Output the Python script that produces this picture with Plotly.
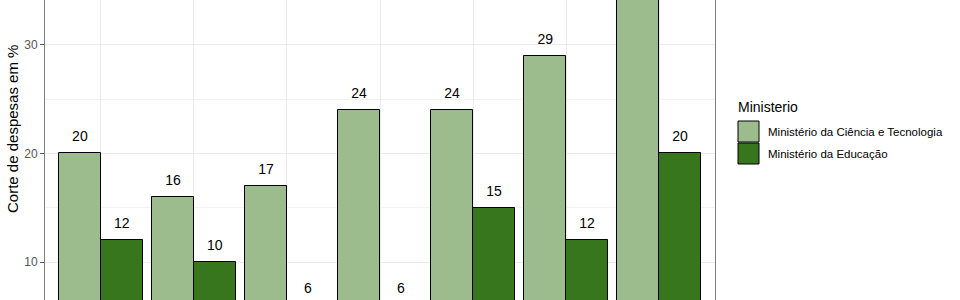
import plotly.graph_objects as go

categories = ["A", "B", "C", "D", "E", "F", "G"]
ciencia = [20, 16, 17, 24, 24, 29, 38]
educacao = [12, 10, 6, 6, 15, 12, 20]
series_names = ["Ministério da Ciência e Tecnologia", "Ministério da Educação"]
colors = ["#9dbc8e", "#38761d"]

W, H = 960, 300
L, R = 45, 715
PW = R - L
YMIN, YMAX = 6.5, 34.14
LABEL_OFF = 1.45

def px(x):
    return (x - L) / PW

def py(y):
    return 1 - y / H

xs = list(range(1, len(categories) + 1))
fig = go.Figure()
for k, (vals, name, col) in enumerate(zip([ciencia, educacao], series_names, colors)):
    off = -0.225 if k == 0 else 0.225
    fig.add_trace(go.Bar(
        x=[x + off for x in xs], y=vals, width=0.45, name=name,
        marker=dict(color=col, line=dict(color="black", width=1)),
        showlegend=False,
    ))
    lx = [x + off for x, v in zip(xs, vals) if v + LABEL_OFF < YMAX]
    lv = [v for v in vals if v + LABEL_OFF < YMAX]
    fig.add_trace(go.Scatter(
        x=lx, y=[v + LABEL_OFF for v in lv], mode="text",
        text=[str(v) for v in lv], textposition="middle center",
        textfont=dict(family="Liberation Sans, Arial", size=14, color="black"),
        showlegend=False, hoverinfo="skip",
    ))

fig.update_layout(
    width=W, height=H,
    margin=dict(l=L, r=W - R, t=0, b=0),
    plot_bgcolor="white", paper_bgcolor="white",
    barmode="overlay", bargap=0,
    font=dict(family="Liberation Sans, Arial"),
    xaxis=dict(range=[0.4, 7.6], tickvals=xs, ticktext=categories, showticklabels=False,
               showgrid=True, gridcolor="#ebebeb", gridwidth=1, zeroline=False, ticks=""),
    yaxis=dict(range=[YMIN, YMAX], tickvals=[10, 20, 30], showgrid=True, gridcolor="#ebebeb",
               gridwidth=1, zeroline=False, ticks="outside", ticklen=4, tickcolor="#555555",
               tickfont=dict(size=12, color="#555555"),
               showline=True, linecolor="#7f7f7f", linewidth=1, mirror=True,
               minor=dict(tickvals=[15, 25], showgrid=True, gridcolor="#f2f2f2", gridwidth=0.6)),
)

# y-axis title
fig.add_annotation(text="Corte de despesas em %", xref="paper", yref="paper",
                   x=px(13), y=py(129), textangle=-90, showarrow=False,
                   font=dict(size=15, color="black"), xanchor="center", yanchor="middle")

# legend (manual, ggplot style)
fig.add_annotation(text="Ministerio", xref="paper", yref="paper", x=px(736), y=py(107),
                   xanchor="left", yanchor="middle", showarrow=False,
                   font=dict(size=14, color="black"))
key_tops = [121, 143]
for name, col, top in zip(series_names, colors, key_tops):
    fig.add_shape(type="rect", xref="paper", yref="paper",
                  x0=px(738), x1=px(759), y0=py(top), y1=py(top + 21),
                  fillcolor=col, line=dict(color="black", width=1))
    fig.add_annotation(text=name, xref="paper", yref="paper", x=px(766), y=py(top + 10.5),
                       xanchor="left", yanchor="middle", showarrow=False,
                       font=dict(size=11.5, color="black"))

fig.write_html("out.html")
